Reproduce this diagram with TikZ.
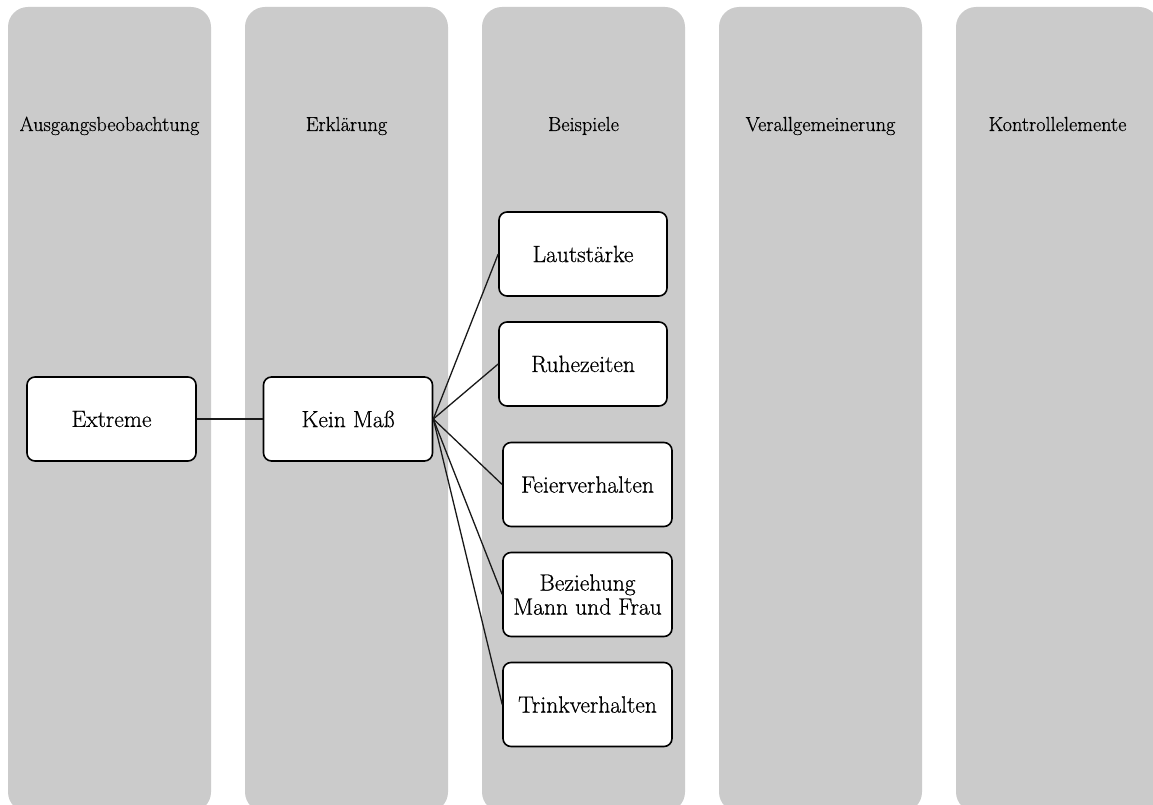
\documentclass[tikz,border=0pt]{standalone}
\usepackage{fontspec}
\setmainfont{Latin Modern Roman}
\newfontfamily\lanefont[FakeBold=0.6]{Latin Modern Roman}
\begin{document}
\begin{tikzpicture}[x=1pt,y=-1pt,
  lane/.style={fill=lanegray,draw=none,rounded corners=20pt},
  lanetitle/.style={font=\lanefont\fontsize{20.3}{24}\selectfont,anchor=base},
  item/.style={draw=black,line width=1.6pt,fill=white,rounded corners=8pt,
    minimum width=169pt,minimum height=84pt,align=center,inner sep=2pt,
    font=\lanefont\fontsize{23.5}{27}\selectfont},
  link/.style={line width=1.3pt,draw=black!90}]
\definecolor{lanegray}{HTML}{CBCBCB}
\useasboundingbox (0,0) rectangle (1153,805);
\clip (0,0) rectangle (1153,805);
% five swim lanes
\foreach \i/\t in {0/Ausgangsbeobachtung,1/Erklärung,2/Beispiele,3/Verallgemeinerung,4/Kontrollelemente}{
  \fill[lane] (8+237*\i,7) rectangle (211+237*\i,812);
  \node[lanetitle] (title\i) at (109.5+237*\i,131) {\t};
}
% nodes
\node[item] (extreme) at (111.5,419) {Extreme};
\node[item] (keinmass) at (348,419) {Kein Maß};
\node[item,minimum width=168pt] (laut) at (583,254) {Lautstärke};
\node[item,minimum width=168pt] (ruhe) at (583,364) {Ruhezeiten};
\node[item] (feier) at (587.5,484.5) {Feierverhalten};
\node[item] (bez) at (587.5,594.5) {Beziehung\\[-3pt]Mann und Frau};
\node[item] (trink) at (587.5,704.5) {Trinkverhalten};
% connectors
\draw[link] (extreme.east) -- (keinmass.west);
\foreach \n in {laut,ruhe,feier,bez,trink}
  \draw[link] (keinmass.east) -- (\n.west);
\end{tikzpicture}
\end{document}
